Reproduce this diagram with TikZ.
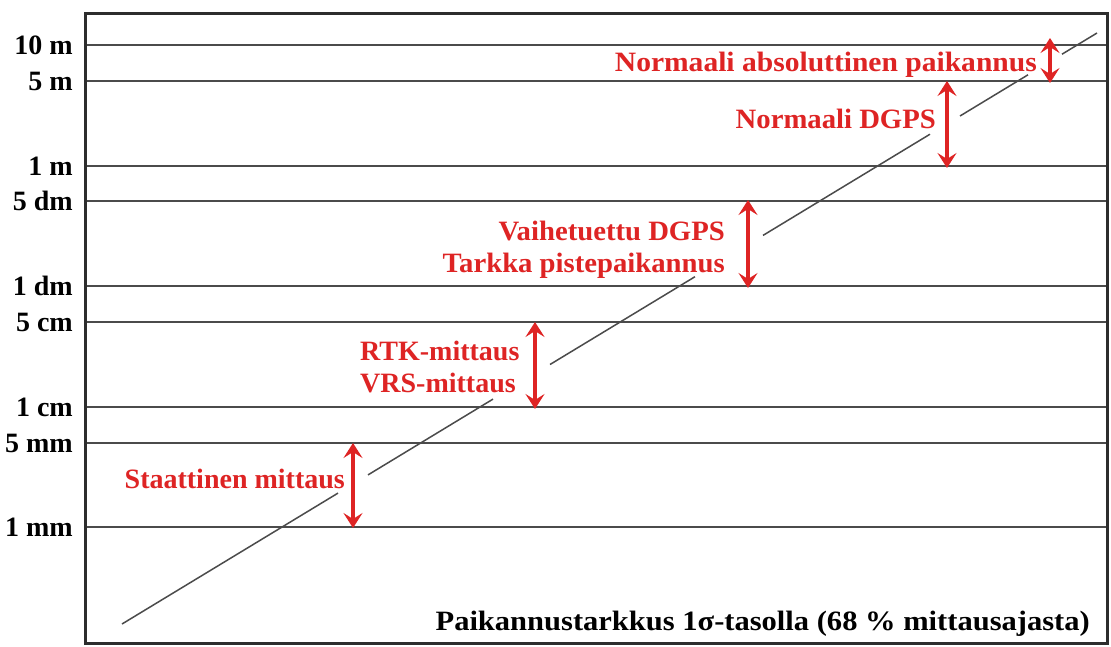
\documentclass[tikz,border=0pt]{standalone}
\usepackage{fontspec}
\setmainfont{Liberation Serif}
\newfontfamily\wideA[FakeStretch=1.055]{Liberation Serif}
\newfontfamily\wideB[FakeStretch=1.09]{Liberation Serif}
\newfontfamily\wideC[FakeStretch=1.025]{Liberation Serif}
\usetikzlibrary{arrows.meta}
\definecolor{redtxt}{RGB}{222,36,36}
\definecolor{gridgray}{RGB}{75,75,75}
\definecolor{framegray}{RGB}{45,45,45}
\begin{document}
\begin{tikzpicture}[x=1pt,y=-1pt,
  tick/.style={anchor=east,font=\fontsize{28}{30}\selectfont\bfseries,inner sep=0pt},
  lbl/.style={text=redtxt,font=\fontsize{28}{30}\selectfont\bfseries,inner sep=0pt},
  lblA/.style={lbl,font=\wideA\fontsize{28}{30}\selectfont\bfseries},
  lblC/.style={lbl,font=\wideC\fontsize{28}{30}\selectfont\bfseries},
  gridline/.style={line width=2.5pt,draw=gridgray},
  dbl/.style={draw=redtxt,line width=3.2pt,
    {Stealth[length=15pt,width=19pt,inset=6pt]}-{Stealth[length=15pt,width=19pt,inset=6pt]}},
  diag/.style={line width=1.5pt,draw=gridgray}]
\useasboundingbox (0,0) rectangle (1111,646);
\fill[white] (0,0) rectangle (1111,646);
% grid lines and tick labels
\foreach \n/\y/\t in {a/45/10 m, b/81/5 m, c/166/1 m, d/201/5 dm, e/286/1 dm,
                      f/322/5 cm, g/407/1 cm, h/443/5 mm, i/527/1 mm}{
  \coordinate (L\n) at (86,\y);
  \coordinate (R\n) at (1107,\y);
  \draw[gridline] (L\n) -- (R\n);
  \node[tick] (t\n) at (73,\y) {\t};
}
% frame
\draw[line width=3pt,draw=framegray] (85,13) rectangle (1107,643);
% diagonal line (interrupted by labels)
\draw[diag] (122,624) -- (338,493.1)
            (368,474.9) -- (493,399.1)
            (550,364.5) -- (695,276.7)
            (763,235.4) -- (930,134.2)
            (960,116.0) -- (1028,74.8)
            (1062,54.2) -- (1097,33);
% red labels
\node[lblA,anchor=base east] (abs) at (1037,71) {Normaali absoluttinen paikannus};
\node[lblC,anchor=base east] (dgps) at (936,128) {Normaali DGPS};
\node[lblC,anchor=base east] (vaih) at (725,240) {Vaihetuettu DGPS};
\node[lblC,anchor=base east] (tark) at (725,272) {Tarkka pistepaikannus};
\node[lbl,anchor=base west] (rtk) at (360,360) {RTK-mittaus};
\node[lbl,anchor=base west] (vrs) at (360,392) {VRS-mittaus};
\node[lbl,anchor=base east] (stat) at (345,488) {Staattinen mittaus};
% bottom caption
\node[anchor=base east,inner sep=0pt,font=\wideB\fontsize{28}{30}\selectfont\bfseries] (cap)
  at (1090,630) {Paikannustarkkus 1σ-tasolla (68 \% mittausajasta)};
% red double arrows
\coordinate (a1t) at (1050,38);  \coordinate (a1b) at (1050,83);
\coordinate (a2t) at (947,81);   \coordinate (a2b) at (947,168);
\coordinate (a3t) at (748,200);  \coordinate (a3b) at (748,288);
\coordinate (a4t) at (535,322);  \coordinate (a4b) at (535,409);
\coordinate (a5t) at (353,443);  \coordinate (a5b) at (353,528);
\draw[dbl] (a1t) -- (a1b);
\draw[dbl] (a2t) -- (a2b);
\draw[dbl] (a3t) -- (a3b);
\draw[dbl] (a4t) -- (a4b);
\draw[dbl] (a5t) -- (a5b);
\end{tikzpicture}
\end{document}
